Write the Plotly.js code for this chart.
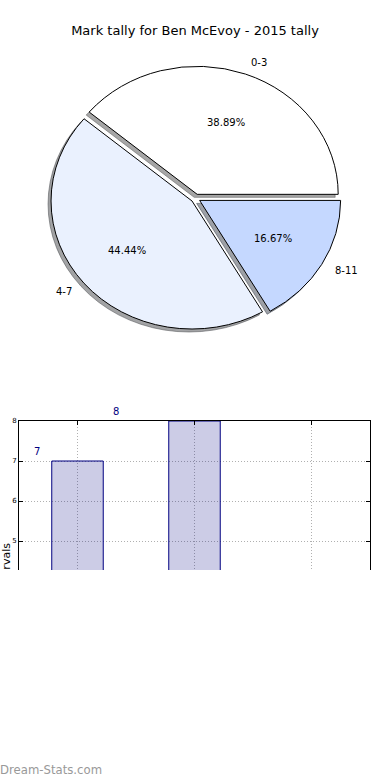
<!DOCTYPE html>
<html><head><meta charset="utf-8">
<script src="https://cdn.plot.ly/plotly-3.0.1.min.js"></script>
<style>
html,body{margin:0;padding:0;background:#fff;width:390px;height:780px;overflow:hidden}
#wrap{position:relative;width:390px;height:780px;background:#fff}
#clip{position:absolute;left:0;top:0;width:390px;height:570px;overflow:hidden}
#chart{width:390px;height:780px}
#wm{position:absolute;left:0;top:763px;font-family:'DejaVu Sans',sans-serif;font-size:11.7px;color:#999;white-space:nowrap}
</style></head><body>
<div id="wrap"><div id="clip"><div id="chart"></div></div><div id="wm">Dream-Stats.com</div></div>
<script>
const chartTitle = 'Mark tally for Ben McEvoy - 2015 tally';
const sliceLabels = ['0-3', '4-7', '8-11'];
const tallies = [7, 8, 3];
const sliceColors = ['#ffffff', '#eaf1fe', '#c5d8ff'];
const barAxisTitle = 'Intervals';

const W = 390, H = 780, ML = 19, MR = 20;
const PW = W - ML - MR;
const pie = {cx: 195.6, cy: 198.3, rx: 141, ry: 128, pull: 0.033, box: 280, sdx: -3, sdy: 3};
const barTop = 421, barBottom = 713, yMin = 0.7, yMax = 8, cutY = 570;
const FONT = 'DejaVu Sans, sans-serif';

function px2x(px) { return (px - ML) / PW; }
function py2y(py) { return 1 - py / H; }
function pieDomain(cx, cy) {
  const hx = pie.box / 2 / PW, hy = pie.box / 2 / H;
  return {x: [px2x(cx) - hx, px2x(cx) + hx], y: [py2y(cy) - hy, py2y(cy) + hy]};
}
function shade(hex) {
  const n = parseInt(hex.slice(1), 16);
  const r = ((n >> 16) & 255) * 0.3, g = ((n >> 8) & 255) * 0.3, b = (n & 255) * 0.3;
  return 'rgba(' + r.toFixed(0) + ',' + g.toFixed(0) + ',' + b.toFixed(0) + ',0.5)';
}
const total = tallies.reduce((a, b) => a + b, 0);
// Plotly (counterclockwise) starts the first slice's far edge at rotation; make 0-3 begin at 3 o'clock
const pieRotation = 90 - tallies[0] / total * 360;

const yDom = [py2y(barBottom), py2y(barTop)];
function yVal2paper(v) { return yDom[0] + (v - yMin) / (yMax - yMin) * (yDom[1] - yDom[0]); }
const yVisibleMin = yMax - (cutY - barTop) / (barBottom - barTop) * (yMax - yMin);
const yTicks = [];
for (let t = Math.ceil(yVisibleMin); t <= yMax; t++) yTicks.push(t);

const shadowTrace = {
  type: 'pie', labels: sliceLabels, values: tallies, sort: false,
  direction: 'counterclockwise', rotation: pieRotation, pull: pie.pull,
  marker: {colors: sliceColors.map(shade), line: {color: sliceColors.map(shade), width: 1}},
  textinfo: 'none', hoverinfo: 'skip', showlegend: false,
  domain: pieDomain(pie.cx + pie.sdx, pie.cy + pie.sdy)
};
const mainPie = {
  type: 'pie', labels: sliceLabels, values: tallies, sort: false,
  direction: 'counterclockwise', rotation: pieRotation, pull: pie.pull,
  marker: {colors: sliceColors, line: {color: '#000000', width: 1}},
  textinfo: 'none', hoverinfo: 'skip', showlegend: false,
  domain: pieDomain(pie.cx, pie.cy)
};
const bars = {
  type: 'bar', x: sliceLabels, y: tallies, width: 0.44,
  marker: {color: 'rgba(0,0,128,0.2)', line: {color: '#000080', width: 1}},
  hoverinfo: 'skip', showlegend: false, xaxis: 'x', yaxis: 'y'
};

const annotations = [];
let cum = 0;
tallies.forEach((v, i) => {
  const a0 = cum / total * 2 * Math.PI, a1 = (cum + v) / total * 2 * Math.PI;
  cum += v;
  const m = (a0 + a1) / 2, c = Math.cos(m), s = Math.sin(m);
  const ox = pie.cx + pie.pull * pie.rx * c, oy = pie.cy - pie.pull * pie.ry * s;
  annotations.push({
    xref: 'paper', yref: 'paper', x: px2x(ox + 1.1 * pie.rx * c), y: py2y(oy - 1.1 * pie.ry * s),
    text: sliceLabels[i], showarrow: false, xanchor: c > 0 ? 'left' : 'right', yanchor: 'middle',
    font: {family: FONT, size: 10, color: '#000'}, borderpad: 0
  });
  annotations.push({
    xref: 'paper', yref: 'paper', x: px2x(ox + 0.6 * pie.rx * c), y: py2y(oy - 0.6 * pie.ry * s),
    text: (v / total * 100).toFixed(2) + '%', showarrow: false, xanchor: 'center', yanchor: 'middle',
    font: {family: FONT, size: 10, color: '#000'}, borderpad: 0
  });
  const ly = v + 0.225;
  if (ly >= yVisibleMin) {
    annotations.push({
      xref: 'x', yref: 'paper', x: i * 0.683 - 0.35, y: yVal2paper(ly),
      text: String(v), showarrow: false, xanchor: 'center', yanchor: 'middle',
      font: {family: FONT, size: 10, color: '#000080'}, borderpad: 0
    });
  }
});

const axisCommon = {
  showline: true, linecolor: '#000', linewidth: 1, mirror: 'ticks',
  ticks: 'inside', ticklen: 4, tickcolor: '#000', tickwidth: 1,
  showgrid: true, gridcolor: '#b0b0b0', griddash: '1px,2px', gridwidth: 1,
  tickfont: {family: FONT, size: 7, color: '#000'}, zeroline: false, fixedrange: true
};

const layout = {
  width: W, height: H,
  margin: {l: ML, r: MR, t: 0, b: 0, pad: 0},
  paper_bgcolor: '#ffffff', plot_bgcolor: '#ffffff',
  showlegend: false, hovermode: false,
  title: {text: chartTitle, font: {family: FONT, size: 13, color: '#000'},
    x: 0.5, xref: 'container', xanchor: 'center', y: py2y(30), yref: 'container', yanchor: 'middle'},
  xaxis: Object.assign({}, axisCommon, {type: 'category', range: [-0.5, 2.5], domain: [0, 1], anchor: 'y',
    showticklabels: false}),
  yaxis: Object.assign({}, axisCommon, {domain: yDom, range: [yMin, yMax],
    tickmode: 'array', tickvals: yTicks, anchor: 'x', automargin: false,
    title: {text: barAxisTitle, font: {family: FONT, size: 11, color: '#000'}, standoff: 2}}),
  annotations: annotations
};

Plotly.newPlot('chart', [shadowTrace, mainPie, bars], layout, {staticPlot: true, displayModeBar: false}).then(gd => {
  const groups = gd.querySelectorAll('.pielayer .trace');
  groups.forEach((g, k) => {
    let cd0 = null;
    try { cd0 = g.__data__[0]; } catch (e) {}
    if (!cd0 || cd0.cx === undefined) cd0 = gd.calcdata[k][0];
    const cx = cd0.cx, cy = cd0.cy, r = cd0.r;
    const sx = pie.rx / r, sy = pie.ry / r;
    g.querySelectorAll('path.surface').forEach(p => {
      p.setAttribute('transform', 'translate(' + cx + ',' + cy + ') scale(' + sx + ',' + sy + ') translate(' + (-cx) + ',' + (-cy) + ')');
      p.style.vectorEffect = 'non-scaling-stroke';
    });
  });
});
</script></body></html>
